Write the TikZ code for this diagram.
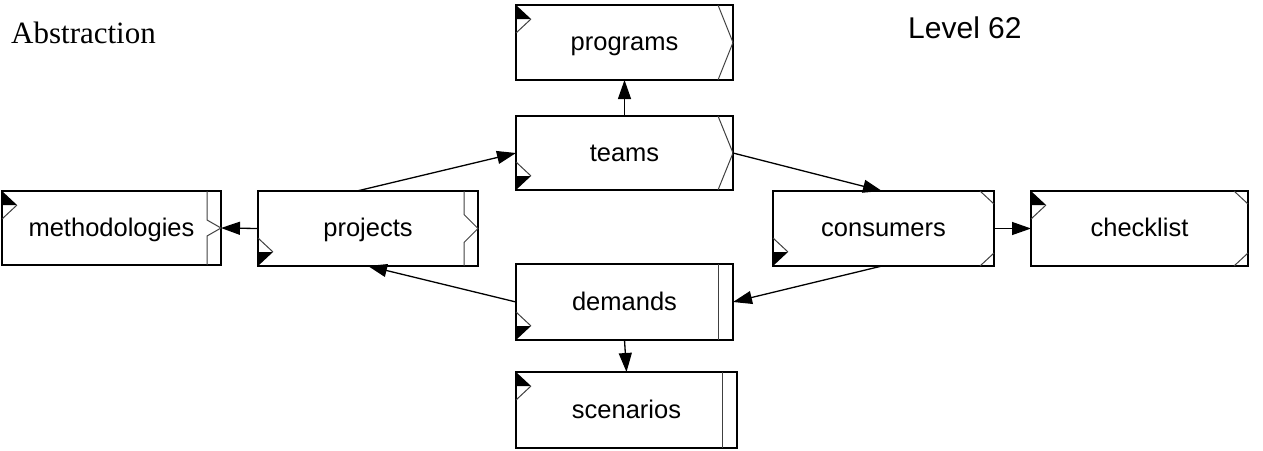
\documentclass[tikz,border=0pt]{standalone}
\usepackage{fontspec}
\setmainfont{Liberation Sans}
\newfontfamily\serifface{Liberation Serif}
\usetikzlibrary{arrows.meta}

% corner flags, right-hand marks
\newcommand\flagNW[1]{%
  \fill (#1.north west) -- ++(15,14) -- ++(-15,0) -- cycle;
  \draw[deco] ([shift={(15,14)}]#1.north west) -- ++(-15,14);}
\newcommand\flagSW[1]{%
  \fill (#1.south west) -- ++(15,-14) -- ++(-15,0) -- cycle;
  \draw[deco] ([shift={(15,-14)}]#1.south west) -- ++(-15,-14);}
\newcommand\chevronE[1]{%
  \draw[deco] ([xshift=-15pt]#1.north east) -- (#1.east) -- ([xshift=-15pt]#1.south east);}
\newcommand\notchE[2]{%
  \draw[deco] ([xshift=-14pt]#1.north east) -- ([shift={(-14,-#2)}]#1.east)
    -- (#1.east) -- ([shift={(-14,#2)}]#1.east) -- ([xshift=-14pt]#1.south east);}
\newcommand\cutsE[1]{%
  \draw[deco] ([xshift=-14pt]#1.north east) -- ([shift={(0,13)}]#1.north east);
  \draw[deco] ([xshift=-14pt]#1.south east) -- ([shift={(0,-13)}]#1.south east);}
\newcommand\barE[1]{%
  \draw[deco] ([xshift=-15pt]#1.north east) -- ([xshift=-15pt]#1.south east);}

\begin{document}
\begin{tikzpicture}[x=1pt,y=-1pt,
  box/.style={draw, line width=2pt, rectangle, inner sep=0pt, outer sep=0pt,
    font=\fontsize{25.5}{30}\selectfont, text height=16pt, text depth=0pt},
  deco/.style={line width=1pt, black!75},
  link/.style={line width=1.3pt, -{Triangle[length=19pt,width=13pt]}}]
\useasboundingbox (0,0) rectangle (1263,450);

\node[box, minimum width=217pt, minimum height=75pt] (programs) at (624.5,42.5) {programs};
\node[box, minimum width=217pt, minimum height=74pt] (teams) at (624.5,153) {teams};
\node[box, minimum width=219pt, minimum height=74pt] (methodologies) at (111.5,228) {methodologies};
\node[box, minimum width=220pt, minimum height=75pt] (projects) at (368,228.5) {projects};
\node[box, minimum width=221pt, minimum height=75pt] (consumers) at (883.5,228.5) {consumers};
\node[box, minimum width=217pt, minimum height=75pt] (checklist) at (1139.5,228.5) {checklist};
\node[box, minimum width=217pt, minimum height=76pt] (demands) at (624.5,302) {demands};
\node[box, minimum width=221pt, minimum height=76pt] (scenarios) at (626.5,410) {scenarios};

\flagNW{programs}      \chevronE{programs}
\flagSW{teams}         \chevronE{teams}
\flagNW{methodologies} \notchE{methodologies}{8}
\flagSW{projects}      \notchE{projects}{14}
\flagSW{consumers}     \cutsE{consumers}
\flagNW{checklist}     \cutsE{checklist}
\flagSW{demands}       \barE{demands}
\flagNW{scenarios}     \barE{scenarios}

\draw[link] (teams.north) -- (programs.south);
\draw[link] ([xshift=-11pt]projects.north) -- (teams.west);
\draw[link] (teams.east) -- ([xshift=-1.5pt]consumers.north);
\draw[link] (projects.west) -- (methodologies.east);
\draw[link] (consumers.east) -- (checklist.west);
\draw[link] ([xshift=-1.5pt]consumers.south) -- (demands.east);
\draw[link] (demands.west) -- (projects.south);
\draw[link] (demands.south) -- (scenarios.north);

\node[anchor=base west, inner sep=0pt, font=\serifface\fontsize{31}{36}\selectfont] (title) at (11,43) {Abstraction};
\node[anchor=base west, inner sep=0pt, font=\fontsize{30}{36}\selectfont] (level) at (908,38) {Level 62};
\end{tikzpicture}
\end{document}
